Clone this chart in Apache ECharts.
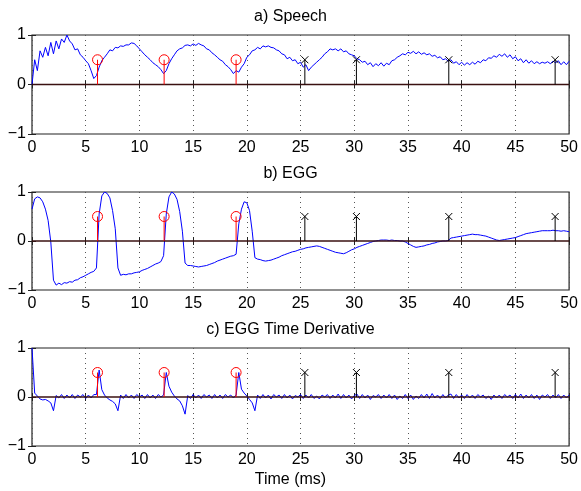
<!DOCTYPE html>
<html>
<head>
<meta charset="utf-8">
<script src="https://cdn.jsdelivr.net/npm/echarts@6/dist/echarts.min.js"></script>
<style>
html, body { margin: 0; padding: 0; background: #fff; }
#main { width: 581px; height: 491px; }
</style>
</head>
<body>
<div id="main"></div>
<script>
// sample spacing of the traces (ms), values read every 0.25 ms
var sampleStepMs = 0.25;

var xTicks = [0, 5, 10, 15, 20, 25, 30, 35, 40, 45, 50];
var yTicks = [-1, 0, 1];
var panelTitles = ['a) Speech', 'b) EGG', 'c) EGG Time Derivative'];
var xAxisTitle = 'Time (ms)';

// a) speech waveform
var speech = [
  0.00, 0.50, 0.28, 0.68, 0.55, 0.75, 0.58, 0.85, 0.62, 0.88, 0.72, 0.92, 0.85, 1.00, 0.88, 0.82, 0.70, 0.72, 0.60, 0.55,
  0.48, 0.42, 0.28, 0.12, 0.18, 0.35, 0.48, 0.55, 0.62, 0.70, 0.68, 0.75, 0.74, 0.78, 0.77, 0.80, 0.80, 0.84, 0.83, 0.78,
  0.72, 0.66, 0.60, 0.55, 0.50, 0.44, 0.40, 0.36, 0.30, 0.22, 0.28, 0.42, 0.52, 0.60, 0.68, 0.72, 0.74, 0.79, 0.80, 0.78,
  0.82, 0.79, 0.83, 0.80, 0.78, 0.72, 0.70, 0.64, 0.60, 0.55, 0.50, 0.47, 0.40, 0.36, 0.30, 0.22, 0.28, 0.25, 0.35, 0.42,
  0.55, 0.60, 0.68, 0.70, 0.75, 0.72, 0.78, 0.76, 0.78, 0.75, 0.74, 0.70, 0.68, 0.62, 0.60, 0.52, 0.55, 0.48, 0.50, 0.42,
  0.45, 0.35, 0.40, 0.28, 0.35, 0.40, 0.45, 0.50, 0.55, 0.62, 0.66, 0.72, 0.70, 0.72, 0.68, 0.72, 0.66, 0.68, 0.62, 0.60,
  0.58, 0.52, 0.50, 0.45, 0.47, 0.40, 0.44, 0.36, 0.42, 0.38, 0.44, 0.37, 0.43, 0.40, 0.48, 0.50, 0.55, 0.58, 0.62, 0.60,
  0.65, 0.63, 0.67, 0.62, 0.66, 0.61, 0.64, 0.60, 0.62, 0.57, 0.59, 0.54, 0.56, 0.50, 0.52, 0.47, 0.50, 0.43, 0.46, 0.40,
  0.45, 0.39, 0.44, 0.40, 0.45, 0.41, 0.47, 0.44, 0.50, 0.48, 0.54, 0.53, 0.58, 0.55, 0.61, 0.57, 0.62, 0.55, 0.60, 0.52,
  0.56, 0.48, 0.52, 0.44, 0.50, 0.43, 0.48, 0.42, 0.46, 0.42, 0.45, 0.43, 0.46, 0.42, 0.47, 0.44, 0.48, 0.40, 0.46, 0.40,
  0.47
];

// b) EGG
var egg = [
  0.65, 0.86, 0.90, 0.88, 0.80, 0.65, 0.42, -0.02, -0.80, -0.90, -0.86, -0.89, -0.85, -0.86, -0.83, -0.84, -0.80, -0.79, -0.75, -0.73,
  -0.70, -0.67, -0.64, -0.62, -0.55, 0.55, 0.92, 1.00, 0.97, 0.88, 0.62, 0.25, -0.55, -0.70, -0.68, -0.69, -0.67, -0.67, -0.65, -0.64,
  -0.63, -0.60, -0.58, -0.56, -0.53, -0.50, -0.47, -0.45, -0.42, -0.30, 0.55, 0.90, 1.00, 0.96, 0.85, 0.60, 0.20, -0.45, -0.50, -0.50,
  -0.51, -0.52, -0.53, -0.52, -0.51, -0.50, -0.48, -0.46, -0.44, -0.41, -0.39, -0.37, -0.35, -0.33, -0.31, -0.30, -0.27, 0.35, 0.65, 0.80,
  0.78, 0.62, 0.20, -0.34, -0.37, -0.38, -0.40, -0.41, -0.40, -0.39, -0.37, -0.35, -0.33, -0.30, -0.28, -0.26, -0.24, -0.22, -0.21, -0.19,
  -0.17, -0.16, -0.14, -0.13, -0.12, -0.11, -0.10, -0.11, -0.13, -0.15, -0.17, -0.19, -0.21, -0.23, -0.24, -0.25, -0.26, -0.24, -0.21, -0.18,
  -0.16, -0.13, -0.11, -0.09, -0.07, -0.05, -0.03, -0.01, 0.00, 0.01, 0.02, 0.02, 0.02, 0.01, 0.02, 0.01, 0.01, 0.00, 0.00, -0.02,
  -0.05, -0.08, -0.11, -0.13, -0.12, -0.11, -0.10, -0.08, -0.07, -0.05, -0.04, -0.02, -0.01, 0.00, 0.00, 0.01, 0.06, 0.07, 0.08, 0.09,
  0.10, 0.11, 0.12, 0.13, 0.14, 0.13, 0.13, 0.12, 0.11, 0.10, 0.08, 0.06, 0.04, 0.02, 0.01, 0.02, 0.03, 0.04, 0.05, 0.06,
  0.07, 0.09, 0.11, 0.13, 0.15, 0.16, 0.17, 0.18, 0.19, 0.20, 0.21, 0.21, 0.21, 0.21, 0.22, 0.21, 0.21, 0.20, 0.21, 0.20,
  0.19
];

// c) EGG time derivative
var eggDeriv = [
  1.00, 0.08, 0.02, -0.04, -0.06, -0.05, -0.08, -0.12, -0.28, 0.03, -0.02, 0.05, -0.03, 0.04, -0.02, 0.05, -0.03, 0.04, 0.00, 0.05,
  -0.03, 0.04, -0.02, 0.05, 0.05, 0.55, 0.15, 0.04, -0.02, -0.06, -0.09, -0.14, -0.28, 0.04, -0.03, 0.05, -0.02, 0.04, -0.03, 0.05,
  0.00, 0.04, -0.03, 0.05, -0.02, 0.04, -0.03, 0.05, 0.00, 0.04, 0.50, 0.22, 0.10, 0.02, -0.04, -0.08, -0.18, -0.35, 0.03, -0.03,
  0.05, -0.02, 0.04, -0.03, 0.05, 0.00, 0.04, -0.03, 0.05, -0.02, 0.04, -0.03, 0.05, 0.00, 0.04, -0.02, 0.04, 0.50, 0.16, 0.08,
  0.02, -0.05, -0.12, -0.28, 0.04, -0.03, 0.05, -0.02, 0.04, -0.04, 0.05, 0.00, 0.04, -0.03, 0.05, -0.02, 0.04, -0.04, 0.03, 0.00,
  0.05, -0.03, 0.04, -0.02, 0.05, -0.03, 0.02, -0.04, 0.04, 0.00, 0.05, -0.03, 0.04, -0.02, 0.06, -0.03, 0.05, -0.02, 0.04, -0.04,
  0.03, 0.06, -0.03, 0.05, -0.02, 0.04, -0.05, 0.03, 0.00, 0.05, -0.03, 0.04, -0.02, 0.05, -0.03, 0.04, -0.05, 0.02, -0.03, 0.05,
  -0.03, 0.04, -0.05, 0.02, -0.03, 0.05, -0.02, 0.06, -0.03, 0.07, -0.02, 0.04, -0.03, 0.05, -0.02, 0.04, 0.06, -0.03, 0.05, -0.02,
  0.04, -0.03, 0.05, -0.02, 0.04, -0.03, 0.05, 0.00, 0.04, -0.03, 0.02, -0.05, 0.04, -0.02, 0.04, -0.03, 0.05, 0.00, 0.04, -0.03,
  0.05, -0.02, 0.06, -0.03, 0.04, -0.02, 0.05, -0.03, 0.04, -0.05, 0.04, 0.00, 0.05, -0.03, 0.04, -0.02, 0.05, -0.03, 0.04, -0.02,
  0.04
];

// marked instants (ms): red circles and black crosses, both drawn at height 0.5
var gciTimes = [6.1, 12.3, 19.0];
var otherTimes = [25.4, 30.2, 38.8, 48.7];
var markHeight = 0.5;

var traces = [speech, egg, eggDeriv];

var FONT = '"Liberation Sans", Arial, Helvetica, sans-serif';
var gridBoxes = [
  { top: 35, height: 99 },
  { top: 192, height: 98 },
  { top: 348, height: 98 }
];

function toPoints(values) {
  return values.map(function (v, i) { return [i * sampleStepMs, v]; });
}

function stemSeries(idx, times, color) {
  return {
    type: 'custom',
    xAxisIndex: idx * 2,
    yAxisIndex: idx * 2,
    z: 4,
    silent: true,
    data: times.map(function (t) { return [t, markHeight]; }),
    renderItem: function (params, api) {
      var top = api.coord([api.value(0), api.value(1)]);
      var base = api.coord([api.value(0), 0]);
      return {
        type: 'line',
        shape: { x1: base[0], y1: base[1], x2: top[0], y2: top[1] },
        style: { stroke: color, lineWidth: 1 }
      };
    }
  };
}

var grid = [], xAxis = [], yAxis = [], series = [], graphic = [];

traces.forEach(function (values, i) {
  grid.push({
    left: 32, right: 10, top: gridBoxes[i].top, height: gridBoxes[i].height,
    show: true, borderColor: '#222', borderWidth: 1.2, backgroundColor: 'transparent'
  });

  var xMin = xTicks[0], xMax = xTicks[xTicks.length - 1];
  var xInt = xTicks[1] - xTicks[0];
  xAxis.push({
    type: 'value', gridIndex: i, min: xMin, max: xMax, interval: xInt,
    axisLine: { show: false },
    axisTick: { inside: true, length: 4, lineStyle: { color: '#222' } },
    axisLabel: { color: '#000', fontSize: 16, fontFamily: FONT, margin: 6 },
    splitLine: { show: true, lineStyle: { color: '#555', type: [1, 4], width: 1 } }
  });
  xAxis.push({
    type: 'value', gridIndex: i, position: 'top', min: xMin, max: xMax, interval: xInt,
    axisLine: { show: false },
    axisTick: { inside: true, length: 4, lineStyle: { color: '#222' } },
    axisLabel: { show: false },
    splitLine: { show: false }
  });

  var yMin = yTicks[0], yMax = yTicks[yTicks.length - 1];
  var yInt = yTicks[1] - yTicks[0];
  yAxis.push({
    type: 'value', gridIndex: i, min: yMin, max: yMax, interval: yInt,
    axisLine: { show: false },
    axisTick: { inside: true, length: 4, lineStyle: { color: '#222' } },
    axisLabel: {
      color: '#000', fontSize: 16, fontFamily: FONT, margin: 6,
      formatter: function (v) { return String(v).replace('-', '\u2212'); }
    },
    splitLine: { show: false }
  });
  yAxis.push({
    type: 'value', gridIndex: i, position: 'right', min: yMin, max: yMax, interval: yInt,
    axisLine: { show: false },
    axisTick: { inside: true, length: 4, lineStyle: { color: '#222' } },
    axisLabel: { show: false },
    splitLine: { show: false }
  });

  // the trace
  series.push({
    type: 'line', xAxisIndex: i * 2, yAxisIndex: i * 2, z: 2,
    data: toPoints(values), showSymbol: false, silent: true,
    lineStyle: { color: '#0000ff', width: 1 }
  });
  // stem baseline
  series.push({
    type: 'line', xAxisIndex: i * 2, yAxisIndex: i * 2, z: 3,
    data: [[xMin, 0], [xMax, 0]], showSymbol: false, silent: true,
    lineStyle: { color: '#3a1010', width: 1.5 }
  });
  series.push(stemSeries(i, gciTimes, '#ff0000'));
  series.push(stemSeries(i, otherTimes, '#000000'));
  series.push({
    type: 'scatter', xAxisIndex: i * 2, yAxisIndex: i * 2, z: 5, silent: true,
    data: gciTimes.map(function (t) { return [t, markHeight]; }),
    symbol: 'circle', symbolSize: 10,
    itemStyle: { color: 'rgba(0,0,0,0)', borderColor: '#ff0000', borderWidth: 1, opacity: 1 }
  });
  series.push({
    type: 'scatter', xAxisIndex: i * 2, yAxisIndex: i * 2, z: 5, silent: true,
    data: otherTimes.map(function (t) { return [t, markHeight]; }),
    symbol: 'path://M0,0L10,10M10,0L0,10', symbolSize: 7,
    itemStyle: { color: 'rgba(0,0,0,0)', borderColor: '#000', borderWidth: 1, opacity: 1 }
  });

  graphic.push({
    type: 'text', left: 'center', top: gridBoxes[i].top - 26,
    style: { text: panelTitles[i], fill: '#000', font: '16px ' + FONT }
  });
});

graphic.push({
  type: 'text', left: 'center', top: 472,
  style: { text: xAxisTitle, fill: '#000', font: '16px ' + FONT }
});

var chart = echarts.init(document.getElementById('main'), null, { renderer: 'canvas' });
chart.setOption({
  animation: false,
  backgroundColor: '#fff',
  grid: grid,
  xAxis: xAxis,
  yAxis: yAxis,
  series: series,
  graphic: graphic
});
</script>
</body>
</html>
